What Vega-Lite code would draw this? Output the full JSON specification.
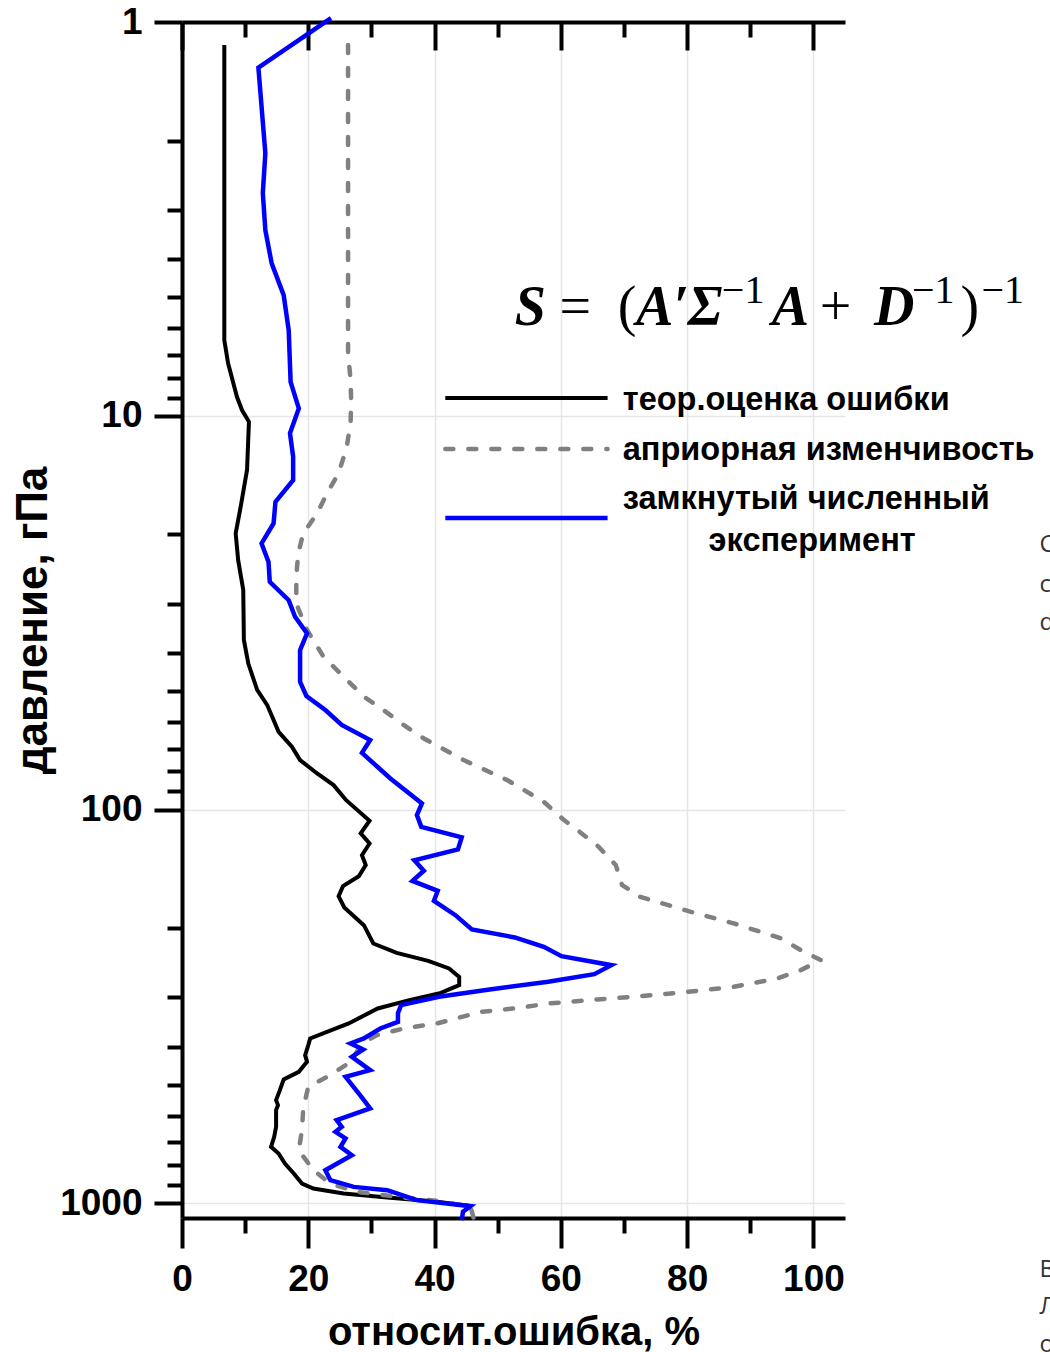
{
 "$schema":"https://vega.github.io/schema/vega-lite/v6.json",
 "width":663,"height":1196,"autosize":"none",
 "padding":{"left":182,"top":22,"right":205,"bottom":134},
 "background":"white",
 "config":{"view":{"stroke":null}},
 "datasets":{
  "curves":[
   {"s":"t","i":0,"x":6.7,"p":1.144},{"s":"t","i":1,"x":6.7,"p":6.42},{"s":"t","i":2,"x":7.3,"p":7.36},{"s":"t","i":3,"x":8.7,"p":8.95},{"s":"t","i":4,"x":9.5,"p":9.67},{"s":"t","i":5,"x":10.6,"p":10.36},{"s":"t","i":6,"x":10.3,"p":13.73},{"s":"t","i":7,"x":9.3,"p":17.0},{"s":"t","i":8,"x":8.5,"p":19.9},{"s":"t","i":9,"x":8.9,"p":23.3},{"s":"t","i":10,"x":9.7,"p":27.7},{"s":"t","i":11,"x":9.8,"p":37.1},{"s":"t","i":12,"x":10.5,"p":42.6},{"s":"t","i":13,"x":11.9,"p":49.7},{"s":"t","i":14,"x":13.5,"p":54.3},{"s":"t","i":15,"x":15.3,"p":63.5},{"s":"t","i":16,"x":17.4,"p":69.3},{"s":"t","i":17,"x":18.7,"p":74.9},{"s":"t","i":18,"x":21.4,"p":81.0},{"s":"t","i":19,"x":24.0,"p":86.7},{"s":"t","i":20,"x":26.0,"p":94.7},{"s":"t","i":21,"x":29.7,"p":106.8},{"s":"t","i":22,"x":28.3,"p":115.0},{"s":"t","i":23,"x":29.7,"p":122.0},{"s":"t","i":24,"x":28.5,"p":130.6},{"s":"t","i":25,"x":29.1,"p":138.4},{"s":"t","i":26,"x":28.0,"p":147.7},{"s":"t","i":27,"x":25.5,"p":156.5},{"s":"t","i":28,"x":24.8,"p":166.0},{"s":"t","i":29,"x":25.7,"p":177.3},{"s":"t","i":30,"x":28.8,"p":196.7},{"s":"t","i":31,"x":30.3,"p":218.9},{"s":"t","i":32,"x":34.0,"p":231.2},{"s":"t","i":33,"x":39.0,"p":242.3},{"s":"t","i":34,"x":42.3,"p":253.3},{"s":"t","i":35,"x":43.9,"p":266.1},{"s":"t","i":36,"x":43.9,"p":279.3},{"s":"t","i":37,"x":41.0,"p":292.2},{"s":"t","i":38,"x":36.0,"p":304.9},{"s":"t","i":39,"x":31.0,"p":320.1},{"s":"t","i":40,"x":26.4,"p":349.4},{"s":"t","i":41,"x":20.3,"p":381.4},{"s":"t","i":42,"x":20.0,"p":396.6},{"s":"t","i":43,"x":19.5,"p":420.6},{"s":"t","i":44,"x":19.8,"p":437.4},{"s":"t","i":45,"x":18.5,"p":463.7},{"s":"t","i":46,"x":16.1,"p":484.8},{"s":"t","i":47,"x":15.5,"p":516.1},{"s":"t","i":48,"x":14.9,"p":547.2},{"s":"t","i":49,"x":15.2,"p":563.4},{"s":"t","i":50,"x":14.9,"p":580.1},{"s":"t","i":51,"x":14.9,"p":639.4},{"s":"t","i":52,"x":14.6,"p":678.0},{"s":"t","i":53,"x":14.1,"p":719.0},{"s":"t","i":54,"x":15.3,"p":747.3},{"s":"t","i":55,"x":16.3,"p":792.4},{"s":"t","i":56,"x":17.7,"p":840.3},{"s":"t","i":57,"x":19.0,"p":890.8},{"s":"t","i":58,"x":20.8,"p":917.2},{"s":"t","i":59,"x":25.6,"p":944.5},{"s":"t","i":60,"x":32.5,"p":966.7},{"s":"t","i":61,"x":40.4,"p":991.8},{"s":"t","i":62,"x":45.4,"p":1014},
   {"s":"a","i":0,"x":26.3,"p":1.144},{"s":"a","i":1,"x":26.3,"p":6.93},{"s":"a","i":2,"x":26.7,"p":8.12},{"s":"a","i":3,"x":26.8,"p":9.28},{"s":"a","i":4,"x":26.7,"p":10.36},{"s":"a","i":5,"x":26.1,"p":12.0},{"s":"a","i":6,"x":24.8,"p":14.0},{"s":"a","i":7,"x":23.0,"p":15.7},{"s":"a","i":8,"x":21.4,"p":17.7},{"s":"a","i":9,"x":19.2,"p":19.9},{"s":"a","i":10,"x":18.4,"p":22.4},{"s":"a","i":11,"x":18.1,"p":25.6},{"s":"a","i":12,"x":18.1,"p":30.0},{"s":"a","i":13,"x":19.8,"p":35.0},{"s":"a","i":14,"x":22.4,"p":40.9},{"s":"a","i":15,"x":25.6,"p":46.0},{"s":"a","i":16,"x":28.8,"p":51.7},{"s":"a","i":17,"x":31.9,"p":55.9},{"s":"a","i":18,"x":35.1,"p":61.0},{"s":"a","i":19,"x":38.3,"p":66.0},{"s":"a","i":20,"x":44.6,"p":74.9},{"s":"a","i":21,"x":51.5,"p":84.2},{"s":"a","i":22,"x":57.3,"p":95.6},{"s":"a","i":23,"x":60.5,"p":106.4},{"s":"a","i":24,"x":63.0,"p":114.0},{"s":"a","i":25,"x":66.0,"p":124.4},{"s":"a","i":26,"x":68.7,"p":138.4},{"s":"a","i":27,"x":69.7,"p":155.6},{"s":"a","i":28,"x":72.6,"p":166.7},{"s":"a","i":29,"x":80.6,"p":181.9},{"s":"a","i":30,"x":87.4,"p":194.7},{"s":"a","i":31,"x":94.9,"p":212.5},{"s":"a","i":32,"x":98.0,"p":227.6},{"s":"a","i":33,"x":101.2,"p":241.3},{"s":"a","i":34,"x":98.0,"p":255.8},{"s":"a","i":35,"x":94.3,"p":268.5},{"s":"a","i":36,"x":87.4,"p":282.0},{"s":"a","i":37,"x":80.1,"p":290.4},{"s":"a","i":38,"x":72.6,"p":297.9},{"s":"a","i":39,"x":65.8,"p":303.7},{"s":"a","i":40,"x":58.0,"p":310.9},{"s":"a","i":41,"x":53.1,"p":319.5},{"s":"a","i":42,"x":47.3,"p":326.5},{"s":"a","i":43,"x":40.4,"p":349.4},{"s":"a","i":44,"x":35.1,"p":359.8},{"s":"a","i":45,"x":30.9,"p":374.1},{"s":"a","i":46,"x":28.5,"p":392.8},{"s":"a","i":47,"x":26.7,"p":437.4},{"s":"a","i":48,"x":23.5,"p":472.7},{"s":"a","i":49,"x":20.0,"p":506.2},{"s":"a","i":50,"x":19.2,"p":574.3},{"s":"a","i":51,"x":19.0,"p":652.0},{"s":"a","i":52,"x":18.5,"p":733.1},{"s":"a","i":53,"x":20.8,"p":824.2},{"s":"a","i":54,"x":23.5,"p":890.8},{"s":"a","i":55,"x":27.7,"p":935.4},{"s":"a","i":56,"x":35.1,"p":966.7},{"s":"a","i":57,"x":40.4,"p":986.0},{"s":"a","i":58,"x":45.7,"p":1021},{"s":"a","i":59,"x":46.2,"p":1093},
   {"s":"z","i":0,"x":23.6,"p":0.977},{"s":"z","i":1,"x":12.1,"p":1.306},{"s":"z","i":2,"x":13.2,"p":2.156},{"s":"z","i":3,"x":12.8,"p":2.72},{"s":"z","i":4,"x":13.2,"p":3.38},{"s":"z","i":5,"x":14.2,"p":4.10},{"s":"z","i":6,"x":16.1,"p":4.94},{"s":"z","i":7,"x":16.9,"p":6.06},{"s":"z","i":8,"x":17.2,"p":8.20},{"s":"z","i":9,"x":18.5,"p":9.58},{"s":"z","i":10,"x":17.1,"p":11.08},{"s":"z","i":11,"x":17.6,"p":12.71},{"s":"z","i":12,"x":17.6,"p":14.57},{"s":"z","i":13,"x":14.8,"p":16.54},{"s":"z","i":14,"x":14.5,"p":18.77},{"s":"z","i":15,"x":12.6,"p":21.1},{"s":"z","i":16,"x":13.7,"p":23.5},{"s":"z","i":17,"x":13.9,"p":26.4},{"s":"z","i":18,"x":16.9,"p":29.4},{"s":"z","i":19,"x":17.9,"p":32.4},{"s":"z","i":20,"x":19.8,"p":35.7},{"s":"z","i":21,"x":18.7,"p":39.4},{"s":"z","i":22,"x":18.7,"p":47.4},{"s":"z","i":23,"x":19.7,"p":51.5},{"s":"z","i":24,"x":22.7,"p":55.9},{"s":"z","i":25,"x":25.3,"p":61.0},{"s":"z","i":26,"x":29.8,"p":66.6},{"s":"z","i":27,"x":28.5,"p":71.8},{"s":"z","i":28,"x":33.0,"p":83.4},{"s":"z","i":29,"x":38.0,"p":96.5},{"s":"z","i":30,"x":37.2,"p":103.3},{"s":"z","i":31,"x":37.9,"p":110.7},{"s":"z","i":32,"x":44.3,"p":117.7},{"s":"z","i":33,"x":43.7,"p":126.3},{"s":"z","i":34,"x":36.8,"p":134.5},{"s":"z","i":35,"x":38.3,"p":143.1},{"s":"z","i":36,"x":36.5,"p":151.8},{"s":"z","i":37,"x":40.5,"p":160.9},{"s":"z","i":38,"x":39.9,"p":170.6},{"s":"z","i":39,"x":43.3,"p":185.5},{"s":"z","i":40,"x":45.9,"p":201.6},{"s":"z","i":41,"x":52.7,"p":211.3},{"s":"z","i":42,"x":57.3,"p":223.2},{"s":"z","i":43,"x":60.1,"p":235.7},{"s":"z","i":44,"x":68.0,"p":248.5},{"s":"z","i":45,"x":65.3,"p":261.9},{"s":"z","i":46,"x":58.0,"p":273.9},{"s":"z","i":47,"x":48.7,"p":286.4},{"s":"z","i":48,"x":40.7,"p":299.0},{"s":"z","i":49,"x":34.7,"p":314.0},{"s":"z","i":50,"x":34.2,"p":329.0},{"s":"z","i":51,"x":34.2,"p":346.1},{"s":"z","i":52,"x":31.4,"p":359.8},{"s":"z","i":53,"x":28.8,"p":381.4},{"s":"z","i":54,"x":26.7,"p":392.8},{"s":"z","i":55,"x":28.7,"p":406.9},{"s":"z","i":56,"x":26.9,"p":424.9},{"s":"z","i":57,"x":29.8,"p":459.1},{"s":"z","i":58,"x":25.9,"p":477.5},{"s":"z","i":59,"x":28.2,"p":531.5},{"s":"z","i":60,"x":29.8,"p":574.3},{"s":"z","i":61,"x":24.5,"p":615.1},{"s":"z","i":62,"x":25.3,"p":639.4},{"s":"z","i":63,"x":24.3,"p":658.4},{"s":"z","i":64,"x":25.9,"p":684.5},{"s":"z","i":65,"x":25.1,"p":719.0},{"s":"z","i":66,"x":26.9,"p":754.8},{"s":"z","i":67,"x":22.7,"p":824.2},{"s":"z","i":68,"x":23.5,"p":873.7},{"s":"z","i":69,"x":27.2,"p":908.7},{"s":"z","i":70,"x":32.5,"p":926.4},{"s":"z","i":71,"x":37.2,"p":981.9},{"s":"z","i":72,"x":45.7,"p":1017},{"s":"z","i":73,"x":44.5,"p":1051},{"s":"z","i":74,"x":44.3,"p":1104}
  ],
  "legline":[
   {"s":"t","x":41.7,"x2":67.4,"p":9.02},
   {"s":"a","x":41.7,"x2":67.4,"p":12.15},
   {"s":"z","x":41.7,"x2":67.4,"p":18.19}
  ],
  "legtext":[
   {"label":"теор.оценка ошибки","x":69.8,"p":9.12},
   {"label":"априорная изменчивость","x":69.8,"p":12.2},
   {"label":"замкнутый численный","x":69.8,"p":16.28},
   {"label":"эксперимент","x":83.4,"p":20.82}
  ],
  "formula":[
   {"part":"v","label":"S","x":52.7,"p":5.884},
   {"part":"o","label":"=","x":59.8,"p":5.884},
   {"part":"o","label":"(","x":69.0,"p":5.884},
   {"part":"v","label":"A′","x":71.9,"p":5.884},
   {"part":"v","label":"Σ","x":80.1,"p":5.884},
   {"part":"s","label":"−1","x":85.5,"p":5.173},
   {"part":"v","label":"A","x":93.4,"p":5.884},
   {"part":"o","label":"+","x":101.0,"p":5.884},
   {"part":"v","label":"D","x":109.6,"p":5.884},
   {"part":"s","label":"−1","x":115.6,"p":5.173},
   {"part":"o","label":")","x":123.3,"p":5.884},
   {"part":"s","label":"−1","x":126.6,"p":5.173}
  ],
  "edge":[
   {"label":"С","x":135.8,"p":21.3},
   {"label":"с","x":135.8,"p":26.9},
   {"label":"d","x":135.8,"p":33.6},
   {"label":"В","x":135.8,"p":1479},
   {"label":"Л","x":135.8,"p":1836},
   {"label":"о","x":135.8,"p":2293}
  ]
 },
 "resolve":{"axis":{"x":"independent","y":"independent"}},
 "layer":[
  {
   "encoding":{
    "x":{"field":"x","type":"quantitative","scale":{"domain":[0,105],"nice":false,"zero":false},
     "axis":{"orient":"bottom","values":[0,10,20,30,40,50,60,70,80,90,100],
      "labelExpr":"datum.value % 20 === 0 ? datum.label : ''",
      "tickSize":{"condition":{"test":"datum.value % 20 === 0","value":30},"value":15},
      "tickWidth":4,"tickColor":"black","domainColor":"black","domainWidth":4,
      "grid":true,"gridColor":"#e6e6e6","gridWidth":1.5,
      "gridOpacity":{"condition":{"test":"datum.value % 20 === 0 && datum.value > 0","value":1},"value":0},
      "labelFont":"Liberation Sans","labelFontWeight":"bold","labelFontSize":37,"labelColor":"black","labelPadding":13,"labelFlush":false,"labelOverlap":false,
      "title":"относит.ошибка, %","titleFont":"Liberation Sans","titleFontWeight":"bold","titleFontSize":40,"titleColor":"black","titlePadding":15}},
    "y":{"field":"p","type":"quantitative","scale":{"type":"log","domain":[1,1090],"reverse":true,"nice":false},
     "axis":{"orient":"left","values":[1,2,3,4,5,6,7,8,9,10,20,30,40,50,60,70,80,90,100,200,300,400,500,600,700,800,900,1000],
      "format":"d",
      "labelExpr":"(datum.value==1||datum.value==10||datum.value==100||datum.value==1000) ? datum.label : ''",
      "tickSize":{"condition":{"test":"datum.value==1||datum.value==10||datum.value==100||datum.value==1000","value":28},"value":15},
      "tickWidth":4,"tickColor":"black","domainColor":"black","domainWidth":4,
      "grid":true,"gridColor":"#e6e6e6","gridWidth":1.5,
      "gridOpacity":{"condition":{"test":"datum.value==10||datum.value==100||datum.value==1000","value":1},"value":0},
      "labelFont":"Liberation Sans","labelFontWeight":"bold","labelFontSize":37,"labelColor":"black","labelPadding":12,"labelFlush":false,"labelOverlap":false,
      "title":"давление, гПа","titleFont":"Liberation Sans","titleFontWeight":"bold","titleFontSize":44,"titleColor":"black","titlePadding":4}}
   },
   "layer":[
    {"data":{"name":"curves"},"transform":[{"filter":"datum.s==='t'"}],
     "mark":{"type":"line","color":"black","strokeWidth":4,"clip":false},
     "encoding":{"order":{"field":"i","type":"quantitative"}}},
    {"data":{"name":"curves"},"transform":[{"filter":"datum.s==='a'"}],
     "mark":{"type":"line","color":"#808080","strokeWidth":4.5,"strokeDash":[8,15],"strokeCap":"round","clip":false},
     "encoding":{"order":{"field":"i","type":"quantitative"}}},
    {"data":{"name":"curves"},"transform":[{"filter":"datum.s==='z'"}],
     "mark":{"type":"line","color":"#0000ff","strokeWidth":4.5,"clip":false},
     "encoding":{"order":{"field":"i","type":"quantitative"}}},
    {"data":{"name":"legline"},"transform":[{"filter":"datum.s==='t'"}],
     "mark":{"type":"rule","color":"black","strokeWidth":4},
     "encoding":{"x2":{"field":"x2"}}},
    {"data":{"name":"legline"},"transform":[{"filter":"datum.s==='a'"}],
     "mark":{"type":"rule","color":"#808080","strokeWidth":4.5,"strokeDash":[8,15],"strokeCap":"round"},
     "encoding":{"x2":{"field":"x2"}}},
    {"data":{"name":"legline"},"transform":[{"filter":"datum.s==='z'"}],
     "mark":{"type":"rule","color":"#0000ff","strokeWidth":4.5},
     "encoding":{"x2":{"field":"x2"}}},
    {"data":{"name":"legtext"},
     "mark":{"type":"text","align":"left","baseline":"middle","font":"Liberation Sans","fontWeight":"bold","fontSize":32.5,"color":"black"},
     "encoding":{"text":{"field":"label"}}},
    {"data":{"name":"edge"},
     "mark":{"type":"text","align":"left","baseline":"middle","font":"Open Sans","fontSize":24,"color":"#333333","clip":false},
     "encoding":{"text":{"field":"label"}}}
   ]
  },
  {"data":{"name":"formula"},
   "encoding":{
    "x":{"field":"x","type":"quantitative","scale":{"domain":[0,105],"nice":false,"zero":false},
     "axis":{"orient":"top","values":[0,10,20,30,40,50,60,70,80,90,100],"labels":false,
      "tickSize":{"condition":{"test":"datum.value % 20 === 0","value":-28},"value":-15},
      "tickWidth":4,"tickColor":"black","domainColor":"black","domainWidth":4,"grid":false,"title":null}},
    "y":{"field":"p","type":"quantitative","scale":{"type":"log","domain":[1,1090],"reverse":true,"nice":false},"axis":null},
    "text":{"field":"label"}},
   "layer":[
    {"transform":[{"filter":"datum.part==='v'"}],
     "mark":{"type":"text","align":"left","baseline":"alphabetic","font":"Liberation Serif","fontWeight":"bold","fontStyle":"italic","fontSize":56,"color":"black"}},
    {"transform":[{"filter":"datum.part==='o'"}],
     "mark":{"type":"text","align":"left","baseline":"alphabetic","font":"Liberation Serif","fontSize":56,"color":"black"}},
    {"transform":[{"filter":"datum.part==='s'"}],
     "mark":{"type":"text","align":"left","baseline":"alphabetic","font":"Liberation Serif","fontSize":40,"color":"black"}}
   ]}
 ]
}
